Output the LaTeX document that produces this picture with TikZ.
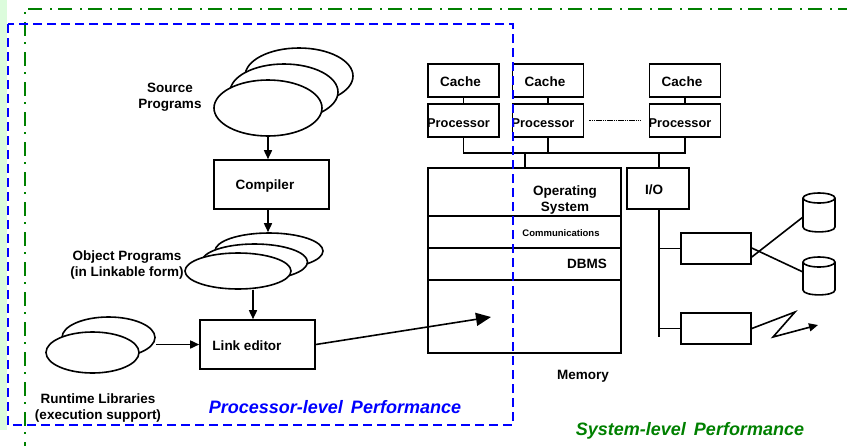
\documentclass[tikz,border=0pt]{standalone}
\usepackage{fontspec}
\setmainfont{Liberation Sans}
\usetikzlibrary{shapes.geometric,arrows.meta}
\definecolor{grn}{RGB}{0,128,0}
\definecolor{blu}{RGB}{0,0,255}
\definecolor{strip}{RGB}{220,252,220}
\begin{document}
\begin{tikzpicture}[x=1pt,y=-1pt,
  box/.style={draw,line width=1.6pt,fill=white,inner sep=0pt},
  ell/.style={draw,ellipse,line width=1.6pt,fill=white,inner sep=0pt},
  lbl/.style={font=\fontsize{13.5}{16}\selectfont\bfseries,align=center,inner sep=0pt},
  conn/.style={line width=1.6pt},
  arr/.style={conn,-{Triangle[length=9pt,width=8pt]}},
  perf/.style={font=\fontsize{18}{20}\selectfont\bfseries\itshape,inner sep=0pt}]
\useasboundingbox (0,0) rectangle (847,445);
\fill[strip] (0,0) rectangle (7,430);
% green system-level border
\draw[grn,line width=1.6pt,dash pattern=on 14pt off 6pt on 2pt off 8pt] (852,9) -- (25,9) -- (25,450);
% Source programs
\node[ell,minimum width=108pt,minimum height=56pt] (src3) at (299,76) {};
\node[ell,minimum width=108pt,minimum height=56pt] (src2) at (284,92) {};
\node[ell,minimum width=108pt,minimum height=56pt] (src1) at (268,108) {};
\node[lbl] (tsrc) at (170,97) {Source\\Programs};
% Compiler
\node[box,minimum width=115pt,minimum height=49pt] (compiler) at (271.5,184.5) {};
\node[lbl] (tcomp) at (265,186) {Compiler};
% Object programs
\node[ell,minimum width=108pt,minimum height=36pt] (obj3) at (269,251) {};
\node[ell,minimum width=106pt,minimum height=36pt] (obj2) at (254.5,262) {};
\node[ell,minimum width=106pt,minimum height=36pt] (obj1) at (238,271) {};
\node[lbl] (tobj) at (127,265) {Object Programs\\(in Linkable form)};
% Link editor
\node[box,minimum width=115pt,minimum height=49pt] (linked) at (257.5,344.5) {};
\node[lbl] (tlink) at (247,346) {Link editor};
% Runtime libraries
\node[ell,minimum width=93pt,minimum height=41pt] (rt2) at (108.5,337.5) {};
\node[ell,minimum width=93pt,minimum height=41pt] (rt1) at (92.5,352.5) {};
\node[lbl] (trt) at (98,408) {Runtime Libraries\\(execution support)};
% arrows, left part
\draw[arr] (src1.south) -- (src1.south |- compiler.north);
\draw[arr] (compiler.south -| src1.south) -- (src1.south |- obj3.north);
\draw[arr] ([xshift=15pt]obj1.south) -- ([xshift=15pt]obj1.south |- linked.north);
\draw[arr] (rt2.east |- linked.west) -- (linked.west);
% caches and processors
\foreach \i/\x in {1/463.5,2/548,3/685}{
  \node[box,minimum width=71pt,minimum height=33pt] (c\i) at (\x,80.5) {};
  \node[lbl] (tc\i) at (\x-3,82) {Cache};
  \node[box,minimum width=71pt,minimum height=33pt] (p\i) at (\x,120.5) {};
  \node[lbl,font=\fontsize{12.8}{15}\selectfont\bfseries] (tp\i) at (\x-5,123) {Processor};
  \draw[conn] (c\i.south) -- (p\i.north);
}
\draw[line width=1pt,dash pattern=on 1.6pt off 0.6pt] ([xshift=5pt]p2.east) -- ([xshift=-8pt]p3.west);
% memory
\node[box,minimum width=193pt,minimum height=185pt] (mem) at (524.5,260.5) {};
\draw[conn] (mem.north west |- 0,216) -- (mem.north east |- 0,216);
\draw[conn] (mem.north west |- 0,248) -- (mem.north east |- 0,248);
\draw[conn] (mem.north west |- 0,280) -- (mem.north east |- 0,280);
\node[lbl] (tos) at (565,200) {Operating\\System};
\node[lbl,font=\fontsize{9.5}{11}\selectfont\bfseries] (tcom) at (561,233) {Communications};
\node[lbl] (tdb) at (587,264) {DBMS};
\node[lbl] (tmem) at (583,376) {Memory};
% I/O
\node[box,minimum width=62pt,minimum height=41pt] (io) at (658,188.5) {};
\node[lbl] (tio) at (654,190) {I/O};
% bus
\coordinate (busl) at (463.5,153);
\coordinate (busr) at (685,153);
\draw[conn] (p1.south) -- (busl) -- (busr) -- (p3.south);
\draw[conn] (p2.south) -- (p2.south |- busl);
\draw[conn] (mem.north -| 525,0) -- (525,153);
\draw[conn] (io.north -| 659,0) -- (659,153);
% io controllers
\node[box,minimum width=70pt,minimum height=31pt] (ctlA) at (716,248.5) {};
\node[box,minimum width=70pt,minimum height=31pt] (ctlB) at (716,328.5) {};
\coordinate (iobot) at (659,337);
\draw[conn] (io.south -| iobot) -- (iobot);
\draw[conn] (ctlA.west -| iobot) -- (ctlA.west);
\draw[conn] (ctlB.west -| iobot) -- (ctlB.west);
% disks
\foreach \d/\t/\b in {1/198/227,2/262/290}{
  \draw[conn] (819,\t) ellipse [x radius=16, y radius=5];
  \draw[conn] (803,\t) -- (803,\b) .. controls (803,\b+6.5) and (835,\b+6.5) .. (835,\b) -- (835,\t);
}
\coordinate (d1) at (803,217);
\coordinate (d2) at (803,272);
\draw[conn] ([yshift=-8.5pt]ctlA.east) -- (d1);
\draw[conn] ([yshift=0.5pt]ctlA.east) -- (d2);
% lightning
\coordinate (z1) at (795,312);
\coordinate (z2) at (773,337);
\coordinate (z3) at (818,325);
\draw[conn,-{Triangle[length=9pt,width=8pt]}] (ctlB.east) -- (z1) -- (z2) -- (z3);
% link editor to memory
\coordinate (memin) at (491,317);
\draw[conn,-{Triangle[length=15pt,width=13pt]}] (linked.east) -- (memin);
% processor-level border
\draw[blu,line width=1.6pt,dash pattern=on 9pt off 5pt] (8,24) rectangle (513,425);
\node[perf,text=blu] (tproc) at (335,407) {Processor-level\, Performance};
\node[perf,text=grn] (tsys) at (690,431) {System-level\, Performance};
\end{tikzpicture}
\end{document}
